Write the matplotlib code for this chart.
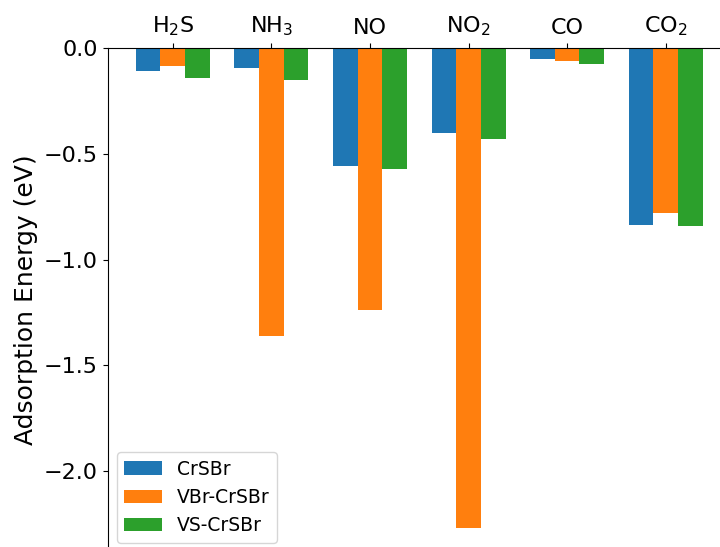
import numpy as np
import matplotlib
matplotlib.use('Agg')
import matplotlib.pyplot as plt

## Gas molecules and adsorption energies (eV) on each substrate
gases = ['H$_2$S', 'NH$_3$', 'NO', 'NO$_2$', 'CO', 'CO$_2$']
crsbr = [-0.11, -0.095, -0.56, -0.40, -0.05, -0.835]
vbr_crsbr = [-0.085, -1.36, -1.24, -2.27, -0.06, -0.78]
vs_crsbr = [-0.14, -0.15, -0.57, -0.43, -0.075, -0.84]
series_names = ['CrSBr', 'VBr-CrSBr', 'VS-CrSBr']

fig = plt.figure(figsize=(7.2, 5.47), dpi=100)
## Axes run past right and bottom edges, as in the cropped original
ax = fig.add_axes([107.5/720, 0.9122 - 0.9216, 0.866, 0.9216])

x = np.arange(len(gases))
w = 0.25
for i, (vals, name) in enumerate(zip([crsbr, vbr_crsbr, vs_crsbr], series_names)):
    ax.bar(x + (i - 1)*w, vals, width=w, label=name)

ax.xaxis.tick_top()
ax.set_xticks(x)
ax.set_xticklabels(gases, fontsize=16)
ax.tick_params(axis='y', labelsize=16)
ax.set_yticks([0.0, -0.5, -1.0, -1.5, -2.0])
ax.set_ylabel('Adsorption Energy (eV)', fontsize=18)
ax.spines['right'].set_visible(False)
ax.spines['bottom'].set_visible(False)
ax.legend(loc='lower left', fontsize=13.5)

fig.savefig('out.png', dpi=100)
